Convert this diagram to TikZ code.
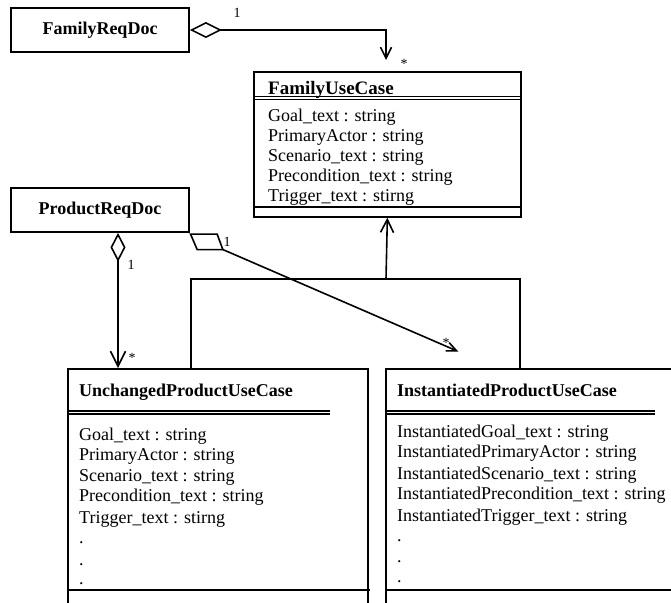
\documentclass[tikz,border=0pt]{standalone}
\usepackage{fontspec}
\setmainfont{Liberation Serif}
\usetikzlibrary{arrows.meta}
\begin{document}
\begin{tikzpicture}[x=1pt,y=-1pt,
  box/.style={draw, line width=1.7pt, inner sep=0pt},
  cls/.style={box, anchor=north west},
  ttl/.style={font=\fontsize{18}{20}\selectfont\bfseries, anchor=base west, inner sep=0pt},
  attr/.style={font=\fontsize{18}{20}\selectfont, anchor=base west, inner sep=0pt},
  mult/.style={font=\fontsize{14}{16}\selectfont, inner sep=0pt},
  rule/.style={line width=1.4pt},
  link/.style={line width=1.6pt},
]
\fill[white] (0,0) rectangle (671,602);
\useasboundingbox (0,0) rectangle (671,602);

% requirement documents
\node[box, minimum width=178pt, minimum height=44pt,
      font=\fontsize{18}{20}\selectfont\bfseries] (frd) at (100,30) {FamilyReqDoc};
\node[box, minimum width=178pt, minimum height=44pt,
      font=\fontsize{18}{20}\selectfont\bfseries] (prd) at (100,210) {ProductReqDoc};

% FamilyUseCase class
\node[cls, minimum width=267pt, minimum height=145pt] (fuc) at (253,71) {};
\node[ttl, font=\fontsize{19}{21}\selectfont\bfseries] (fuc-t) at (268,94) {FamilyUseCase};
\draw[rule] (253,96.5) -- (520,96.5);
\draw[rule] (253,99.5) -- (520,99.5);
\foreach \t [count=\i] in {Goal\_text : string, PrimaryActor : string,
    Scenario\_text : string, Precondition\_text : string, Trigger\_text : stirng}
  \node[attr] (fuc-a\i) at (268,101+20*\i) {\t};
\draw[rule] (253,207) -- (521,207);

% UnchangedProductUseCase class
\node[cls, minimum width=300pt, minimum height=260pt] (unc) at (67,368) {};
\node[ttl] (unc-t) at (79,396) {UnchangedProductUseCase};
\draw[rule] (67,411) -- (330,411);
\draw[rule] (67,414) -- (330,414);
\foreach \t/\y [count=\i] in {Goal\_text : string/440, PrimaryActor : string/460,
    Scenario\_text : string/481, Precondition\_text : string/501.5,
    Trigger\_text : stirng/523, ./543.5, ./565, ./584}
  \node[attr] (unc-a\i) at (79,\y) {\t};
\draw[rule] (67,590) -- (370,590);

% InstantiatedProductUseCase class
\node[cls, minimum width=300pt, minimum height=260pt] (inst) at (385,368) {};
\node[ttl] (inst-t) at (397,396) {InstantiatedProductUseCase};
\draw[rule] (385,411) -- (655,411);
\draw[rule] (385,414) -- (655,414);
\foreach \t/\y [count=\i] in {InstantiatedGoal\_text : string/437.5,
    InstantiatedPrimaryActor : string/457.5,
    InstantiatedScenario\_text : string/479,
    InstantiatedPrecondition\_text : string/499.5,
    InstantiatedTrigger\_text : string/521, ./541.5, ./562.5, ./582.5}
  \node[attr] (inst-a\i) at (397,\y) {\t};
\draw[rule] (385,590) -- (685,590);

% aggregation: FamilyReqDoc -> FamilyUseCase
\coordinate (t1) at (386,60);
\draw[link, {Diamond[open,length=32pt,width=16pt]}-{Straight Barb[length=11pt,width=11pt]}]
  (frd.east) -| (t1);
\node[mult] (m1) at (237,13) {1};
\node[mult] (m2) at (404,64) {*};

% aggregation: ProductReqDoc -> UnchangedProductUseCase
\draw[link, {Diamond[open,length=29pt,width=15pt]}-{Straight Barb[length=15pt,width=15pt]}]
  ([xshift=18pt]prd.south) -- ([xshift=51pt]unc.north west);
\node[mult] (m3) at (131,264.5) {1};
\node[mult] (m4) at (132,358) {*};

% aggregation: ProductReqDoc -> InstantiatedProductUseCase
\draw[link] ([xshift=0.7pt,yshift=-1.3pt]prd.south east) -- ++(26.6,0) -- ++(5.7,15.4)
  coordinate (pd) -- ++(-25.7,0) -- cycle;
\coordinate (t3) at (458.3,351.5);
\draw[link, -{Straight Barb[length=10pt,width=9pt]}] (pd) -- (t3);
\node[mult] (m5) at (227,242) {1};
\node[mult] (m6) at (446,343) {*};

% generalisation tree
\coordinate (j) at (386,279);
\draw[link, -{Straight Barb[length=13pt,width=13pt]}] (j) -- (fuc.south);
\draw[link] ([xshift=124pt]unc.north west) |- (j) -| ([xshift=135pt]inst.north west);
\end{tikzpicture}
\end{document}
